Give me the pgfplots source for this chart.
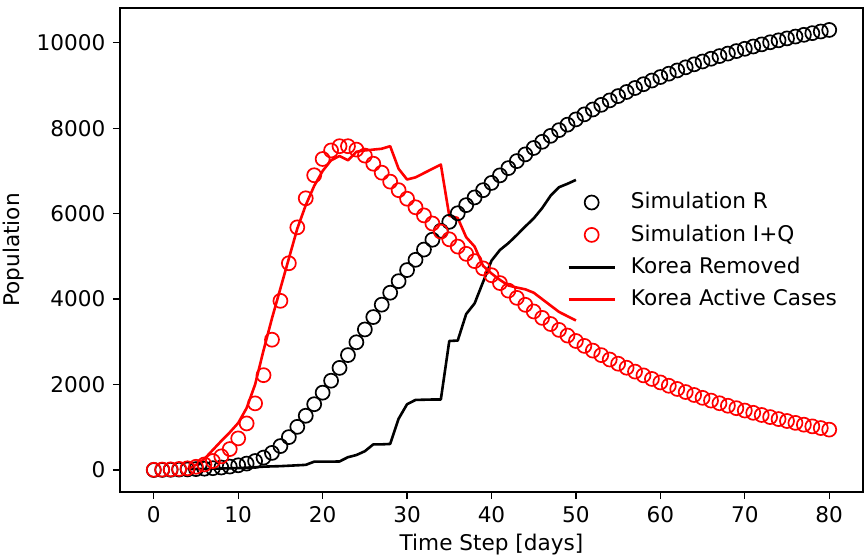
\documentclass[border=0pt]{standalone}
\usepackage{fontspec}
\setmainfont{DejaVu Sans}
\usepackage{pgfplots}
\pgfplotsset{compat=1.18}
\definecolor{mplred}{RGB}{255,0,0}
\pgfplotsset{
  circlelegend/.style={legend image code/.code={\path (0pt,0pt) (23pt,0pt);\draw[##1] plot coordinates {(11.5pt,0pt)};}},
  linelegend/.style={legend image code/.code={\draw[##1] (0pt,0pt) -- (23pt,0pt);}},
}
\begin{document}
\fontsize{10.8}{13}\selectfont
\begin{tikzpicture}
\useasboundingbox (-60pt,-34pt) rectangle (372.5pt,246pt);
\begin{axis}[
  at={(0pt,0pt)}, anchor=south west,
  width=371.5pt, height=242pt, scale only axis,
  xmin=-4, xmax=84, ymin=-515, ymax=10815,
  xtick={0,10,...,80}, ytick={0,2000,...,10000},
  tick align=outside, major tick length=3.5pt,
  tick pos=left,
  scaled y ticks=false,
  /pgf/number format/1000 sep={},
  /pgf/number format/assume math mode=true,
  tick label style={font=\fontsize{10.8}{13}\selectfont},
  axis line style={line width=0.65pt},
  every tick/.style={black, line width=0.65pt},
  xlabel={Time Step [days]}, ylabel={Population},
  label style={font=\fontsize{10.8}{13}\selectfont},
  xlabel style={at={(axis description cs:0.5,-0.1095)}, anchor=center},
  ylabel style={at={(axis description cs:-0.1427,0.5)}, anchor=center},
  legend cell align=left,
  legend style={draw=none, fill=none, at={(0.6016,0.6198)}, anchor=north west,
    inner sep=0pt, row sep=6.1pt, column sep=7.5pt,
    nodes={text height=8.1pt, text depth=2pt, inner sep=0pt},
    font=\fontsize{10.8}{13}\selectfont},
]
\addplot[only marks, mark=o, mark size=3.5pt, black, mark options={line width=0.85pt}, circlelegend]
  table {
x y
0 0
1 2
2 5
3 9
4 14
5 21
6 30
7 42
8 58
9 80
10 110
11 150
12 210
13 290
14 400
15 560
16 770
17 1010
18 1270
19 1540
20 1810
21 2090
22 2390
23 2690
24 2990
25 3290
26 3580
27 3870
28 4150
29 4420
30 4680
31 4920
32 5160
33 5390
34 5600
35 5810
36 6010
37 6200
38 6380
39 6550
40 6720
41 6897
42 7067
43 7231
44 7388
45 7538
46 7683
47 7822
48 7956
49 8084
50 8207
51 8325
52 8439
53 8548
54 8652
55 8753
56 8849
57 8942
58 9031
59 9117
60 9199
61 9277
62 9353
63 9426
64 9496
65 9563
66 9627
67 9689
68 9748
69 9806
70 9860
71 9913
72 9963
73 10012
74 10058
75 10103
76 10146
77 10187
78 10226
79 10265
80 10301
};
\addlegendentry{Simulation R}
\addplot[only marks, mark=o, mark size=3.5pt, mplred, mark options={line width=0.85pt}, circlelegend]
  table {
x y
0 5
1 10
2 15
3 25
4 40
5 75
6 130
7 210
8 320
9 490
10 740
11 1090
12 1560
13 2220
14 3050
15 3960
16 4840
17 5680
18 6360
19 6900
20 7280
21 7480
22 7580
23 7580
24 7500
25 7360
26 7170
27 6960
28 6750
29 6550
30 6350
31 6150
32 5960
33 5770
34 5580
35 5400
36 5230
37 5060
38 4890
39 4720
40 4560
41 4376
42 4199
43 4030
44 3867
45 3711
46 3561
47 3417
48 3279
49 3147
50 3020
51 2905
52 2795
53 2689
54 2586
55 2488
56 2394
57 2303
58 2215
59 2131
60 2050
61 1972
62 1897
63 1825
64 1756
65 1689
66 1625
67 1563
68 1504
69 1447
70 1392
71 1339
72 1288
73 1239
74 1192
75 1147
76 1103
77 1061
78 1021
79 982
80 945
};
\addlegendentry{Simulation I+Q}
\addplot[black, line width=1.3pt, line join=round, linelegend]
  table {
x y
4 20
5 22
6 25
7 28
8 35
9 40
10 45
11 55
12 65
13 78
14 85
15 90
16 100
17 110
18 120
19 195
20 195
21 195
22 200
23 300
24 350
25 440
26 600
27 600
28 610
29 1200
30 1540
31 1640
32 1645
33 1650
34 1650
35 3020
36 3030
37 3650
38 3900
39 4400
40 4900
41 5150
42 5310
43 5500
44 5700
45 5890
46 6130
47 6420
48 6620
49 6700
50 6790
};
\addlegendentry{Korea Removed}
\addplot[mplred, line width=1.3pt, line join=round, linelegend]
  table {
x y
4 20
5 120
6 260
7 470
8 680
9 880
10 1100
11 1450
12 2000
13 2800
14 3550
15 4250
16 4950
17 5650
18 6200
19 6650
20 7000
21 7250
22 7350
23 7250
24 7450
25 7480
26 7500
27 7520
28 7580
29 7050
30 6800
31 6850
32 6950
33 7050
34 7150
35 5950
36 5900
37 5450
38 5230
39 4780
40 4600
41 4450
42 4320
43 4270
44 4230
45 4150
46 4000
47 3850
48 3700
49 3600
50 3500
};
\addlegendentry{Korea Active Cases}
\end{axis}
\end{tikzpicture}
\end{document}
